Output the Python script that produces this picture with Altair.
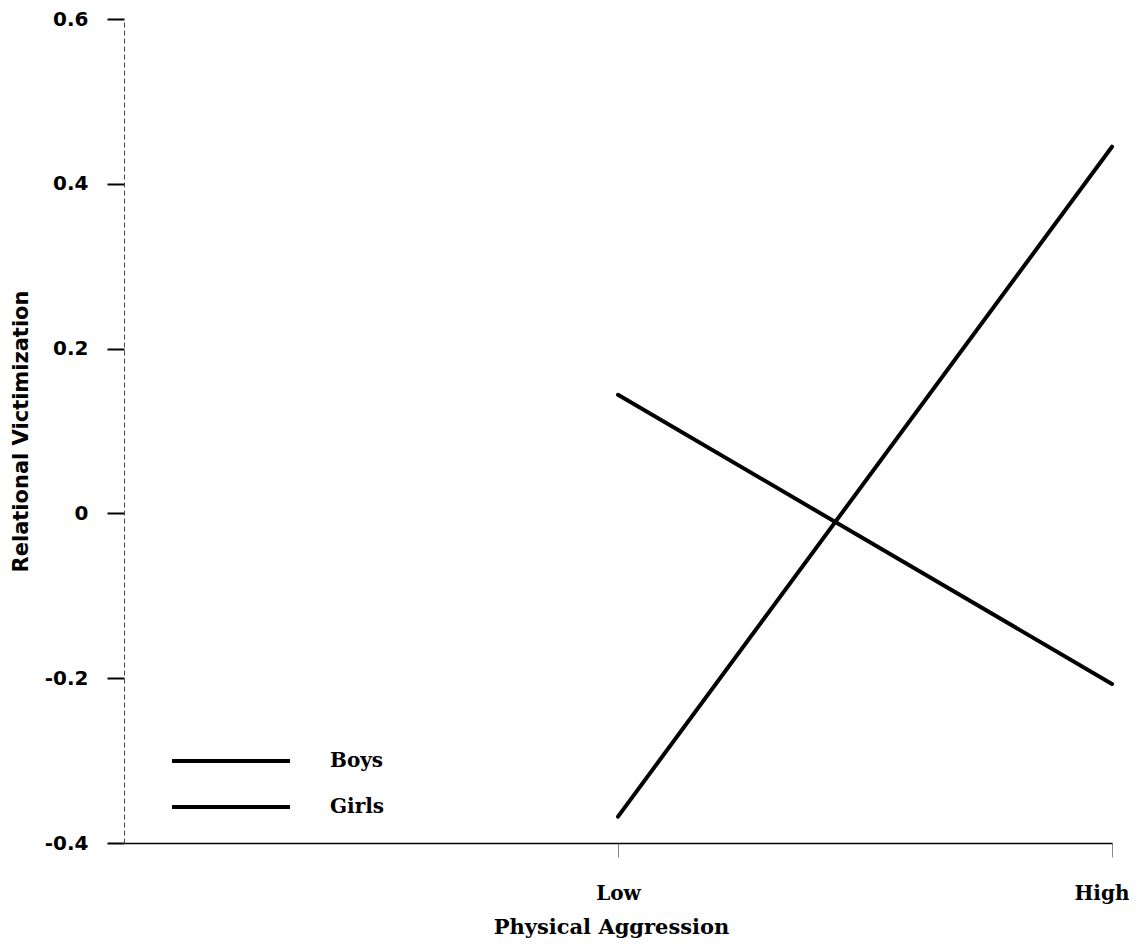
import altair as alt
import pandas as pd

# Data
levels = ["Low", "High"]
boys = [0.144, -0.207]
girls = [-0.368, 0.445]
series = ["Boys", "Girls"]
x_domain = ["", "Low", "High"]
y_ticks = [-0.4, -0.2, 0, 0.2, 0.4, 0.6]

rows = []
for lv, b, g in zip(levels, boys, girls):
    rows.append({"level": lv, "value": b, "group": "Boys"})
    rows.append({"level": lv, "value": g, "group": "Girls"})
df = pd.DataFrame(rows)

serif = "DejaVu Serif"
sans = "DejaVu Sans"

chart = alt.Chart(df).mark_line(strokeWidth=4, strokeCap="round").encode(
    x=alt.X(
        "level:O",
        scale=alt.Scale(type="point", domain=x_domain, padding=0),
        sort=x_domain,
        axis=alt.Axis(
            values=levels,
            title="Physical Aggression",
            labelAngle=0,
            labelFont=serif,
            labelFontWeight="bold",
            labelFontSize=20,
            labelColor="black",
            labelPadding=26,
            labelFlush=True,
            labelFlushOffset=17,
            tickSize=14,
            tickColor="#888",
            tickWidth=1,
            domainColor="black",
            domainWidth=1.5,
            titleFont=serif,
            titleFontWeight="bold",
            titleFontSize=21,
            titleColor="black",
            titlePadding=13,
            titleX=487,
            grid=False,
        ),
    ),
    y=alt.Y(
        "value:Q",
        scale=alt.Scale(domain=[-0.4, 0.6], nice=False, zero=False),
        axis=alt.Axis(
            values=y_ticks,
            labelExpr="'' + datum.value",
            title="Relational Victimization",
            labelFont=sans,
            labelFontWeight="bold",
            labelFontSize=20,
            labelColor="black",
            labelPadding=19,
            tickSize=17,
            tickColor="black",
            tickWidth=2,
            domainColor="#444",
            domainWidth=1,
            domainDash=[5, 3],
            titleFont=sans,
            titleFontWeight="bold",
            titleFontSize=21,
            titleColor="black",
            titlePadding=13,
            grid=False,
        ),
    ),
    color=alt.Color(
        "group:N",
        scale=alt.Scale(domain=series, range=["black", "black"]),
        legend=alt.Legend(
            title=None,
            orient="none",
            legendX=93,
            legendY=728,
            rowPadding=22,
            symbolType="M-5,0H5",
            symbolSize=557,
            symbolStrokeWidth=4,
            symbolStrokeColor="black",
            symbolFillColor="black",
            labelFont=serif,
            labelFontWeight="bold",
            labelFontSize=20,
            labelColor="black",
            labelOffset=85,
            padding=0,
        ),
    ),
).properties(
    width=988,
    height=824,
    background="white",
    autosize=alt.AutoSizeParams(type="none"),
    padding={"left": 116, "top": 11, "right": 17, "bottom": 96},
).configure_view(stroke=None)

chart.save("out.html", embed_options={"renderer": "svg", "actions": False})
